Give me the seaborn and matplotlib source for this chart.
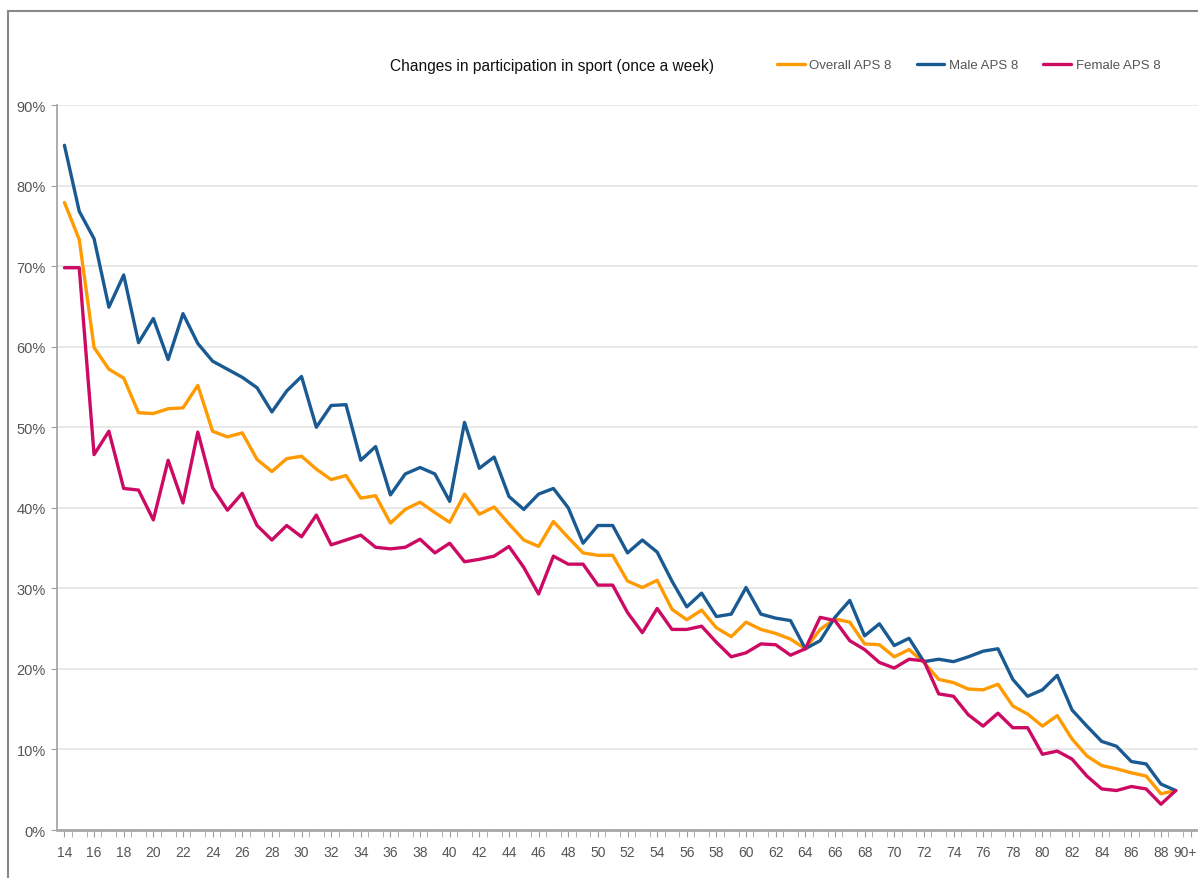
import pandas as pd
import numpy as np
import matplotlib
matplotlib.use("Agg")
import matplotlib.pyplot as plt
from matplotlib.patches import Rectangle
from matplotlib.transforms import ScaledTranslation
import seaborn as sns

# Participation in sport (once a week), % by age
ages = list(range(14, 90))

overall = [77.9, 73.3, 59.9, 57.2, 56.1, 51.8, 51.7, 52.3, 52.4, 55.2,
           49.5, 48.8, 49.3, 46.0, 44.5, 46.1, 46.4, 44.8, 43.5, 44.0,
           41.2, 41.5, 38.1, 39.8, 40.7, 39.4, 38.2, 41.7, 39.2, 40.1,
           38.0, 36.0, 35.2, 38.3, 36.3, 34.4, 34.1, 34.1, 30.9, 30.1,
           31.0, 27.4, 26.1, 27.3, 25.1, 24.0, 25.8, 24.9, 24.4, 23.7,
           22.5, 24.9, 26.2, 25.8, 23.1, 23.0, 21.5, 22.4, 20.8, 18.7,
           18.3, 17.5, 17.4, 18.1, 15.4, 14.4, 12.9, 14.2, 11.3, 9.2,
           8.0, 7.6, 7.1, 6.7, 4.5, 4.9]

male = [85.0, 76.8, 73.4, 64.9, 68.9, 60.5, 63.5, 58.4, 64.1, 60.4,
        58.2, 57.2, 56.2, 54.9, 51.9, 54.5, 56.3, 50.0, 52.7, 52.8,
        45.9, 47.6, 41.6, 44.2, 45.0, 44.2, 40.8, 50.6, 44.9, 46.3,
        41.4, 39.8, 41.7, 42.4, 40.0, 35.6, 37.8, 37.8, 34.4, 36.0,
        34.5, 30.9, 27.7, 29.4, 26.5, 26.8, 30.1, 26.8, 26.3, 26.0,
        22.5, 23.5, 26.4, 28.5, 24.1, 25.6, 22.9, 23.8, 20.9, 21.2,
        20.9, 21.5, 22.2, 22.5, 18.7, 16.6, 17.4, 19.2, 14.9, 12.9,
        11.0, 10.4, 8.5, 8.2, 5.7, 4.9]

female = [69.8, 69.8, 46.6, 49.5, 42.4, 42.2, 38.5, 45.9, 40.6, 49.4,
          42.5, 39.7, 41.8, 37.8, 36.0, 37.8, 36.4, 39.1, 35.4, 36.0,
          36.6, 35.1, 34.9, 35.1, 36.1, 34.4, 35.6, 33.3, 33.6, 34.0,
          35.2, 32.6, 29.3, 34.0, 33.0, 33.0, 30.4, 30.4, 27.0, 24.5,
          27.5, 24.9, 24.9, 25.3, 23.3, 21.5, 22.0, 23.1, 23.0, 21.7,
          22.5, 26.4, 26.0, 23.5, 22.4, 20.8, 20.1, 21.2, 21.0, 16.9,
          16.6, 14.3, 12.9, 14.5, 12.7, 12.7, 9.4, 9.8, 8.8, 6.7,
          5.1, 4.9, 5.4, 5.1, 3.2, 4.9]

series_names = ["Overall APS 8", "Male APS 8", "Female APS 8"]
colors = ["#FF9A00", "#1A5A92", "#CC0A64"]

tick_ages = list(range(14, 91, 2))
tick_labels = [str(a) for a in tick_ages[:-1]] + ["90+"]

df = pd.DataFrame({"Age": ages * 3,
                   "Participation": overall + male + female,
                   "Series": np.repeat(series_names, len(ages))})

sns.set_style("white")
plt.rcParams["font.family"] = ["Liberation Sans", "DejaVu Sans"]

fig = plt.figure(figsize=(11.98, 8.79), dpi=100)
ax = fig.add_axes([0.0476, 0.0546, 0.9524, 0.8248])

sns.lineplot(data=df, x="Age", y="Participation", hue="Series",
             palette=colors, linewidth=2.4, ax=ax, legend=True)

ax.set_xlim(13.5, 90.5)
ax.set_ylim(0, 90)
ax.set_yticks(range(0, 91, 10))
ax.set_yticklabels([f"{v}%" for v in range(0, 91, 10)])
ax.set_xticks(tick_ages)
ax.set_xticklabels(tick_labels)
ax.set_xticks(np.arange(14.5, 90.5, 1), minor=True)
ax.set_xlabel("")
ax.set_ylabel("")

ax.grid(axis="y", color="#E4E4E4", linewidth=1.2)
ax.set_axisbelow(True)
for side in ["top", "right"]:
    ax.spines[side].set_visible(False)
ax.spines["left"].set_color("#A0A0A0")
ax.spines["left"].set_linewidth(1.2)
ax.spines["bottom"].set_color("#A8A8A8")
ax.spines["bottom"].set_linewidth(2)
ax.tick_params(axis="y", left=True, length=4, color="#A0A0A0", labelsize=10.5,
               labelcolor="#555555", pad=4)
ax.tick_params(axis="x", which="both", bottom=True, length=5, color="#A0A0A0",
               labelsize=10, labelcolor="#555555", pad=6)

# keep the "90+" label inside the picture
last = ax.get_xticklabels()[-1]
last.set_transform(last.get_transform() + ScaledTranslation(-6 / 100, 0, fig.dpi_scale_trans))

fig.text(390 / 1198, 1 - 66 / 879, "Changes in participation in sport (once a week)",
         fontsize=11.2, color="#111111", va="center", ha="left")

handles, labels = ax.get_legend_handles_labels()
ax.legend_.remove()
fig.legend(handles, labels, loc="center left", ncol=3, frameon=False,
           bbox_to_anchor=(765 / 1198, 1 - 66 / 879), fontsize=9.5,
           handlelength=2.1, handletextpad=0.35, columnspacing=1.9,
           labelcolor="#555555")

fig.patches.append(Rectangle((8 / 1198, -0.1), 1.2, 1.1 - 12 / 879,
                             transform=fig.transFigure, fill=False,
                             edgecolor="#888888", linewidth=1.5))

plt.savefig("out.png", dpi=100)
